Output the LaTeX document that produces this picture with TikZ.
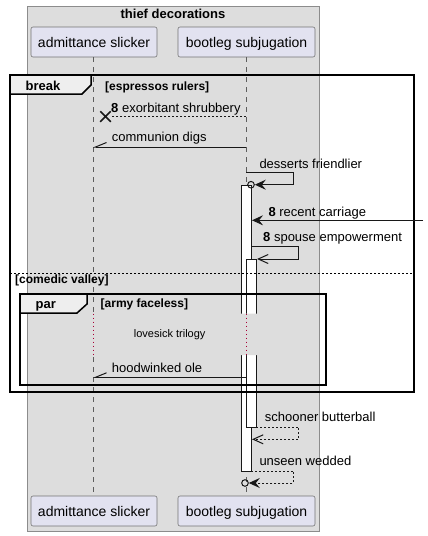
\documentclass[tikz,border=0pt]{standalone}
\usepackage{fontspec}
\setmainfont{Liberation Sans}
\usetikzlibrary{arrows.meta,shapes.misc}
\definecolor{boxgray}{HTML}{DDDDDD}
\definecolor{partfill}{HTML}{E2E2F0}
\definecolor{ink}{HTML}{181818}
\definecolor{tabfill}{HTML}{EEEEEE}
\definecolor{delayred}{HTML}{A80036}

\begin{document}
\begin{tikzpicture}[x=1pt,y=-1pt,
    part/.style={draw=ink!60, line width=0.6pt, fill=partfill, rounded corners=2pt,
                 minimum height=30pt, inner sep=0pt, text height=10pt, text depth=0pt,
                 font=\fontsize{14}{16}\selectfont},
    lifeline/.style={draw=ink!70, line width=0.6pt, dash pattern=on 5pt off 5pt},
    bar/.style={draw=ink, fill=white, line width=1pt},
    msg/.style={draw=ink, line width=1pt},
    reply/.style={msg, dash pattern=on 2pt off 2pt},
    lbl/.style={anchor=base west, inner sep=0pt, font=\fontsize{13}{15}\selectfont},
    head/.style={anchor=base west, inner sep=0pt, font=\bfseries\fontsize{13}{15}\selectfont},
    cond/.style={anchor=base west, inner sep=0pt, font=\bfseries\fontsize{12}{14}\selectfont},
    frame/.style={draw=black, line width=1.5pt},
    tab/.style={frame, fill=tabfill},
    ring/.style={circle, draw=ink, line width=1pt, minimum size=6.6pt, inner sep=0pt},
    lost/.style={cross out, draw=ink, line width=1.5pt, minimum size=9pt, inner sep=0pt},
    filled/.style={-{Stealth[length=11pt,width=10pt,inset=4pt]}},
    barb/.style={-{Straight Barb[length=10pt,width=9pt]}},
    halfbarb/.style={-{Straight Barb[right,length=11pt,width=9pt]}}]
  \useasboundingbox (0,0) rectangle (428,536);
  \fill[boxgray] (27,6) rectangle (319,531);
  \draw[black!45] (27,6) rectangle (319,531);
  \node[head, anchor=base] (boxtitle) at (173,18.3) {thief decorations};

  \node[part, minimum width=126pt] (slickTop) at (94,42) {admittance slicker};
  \node[part, minimum width=137pt] (bootTop) at (246.5,42) {bootleg subjugation};
  \node[part, minimum width=126pt] (slickBot) at (94,511) {admittance slicker};
  \node[part, minimum width=137pt] (bootBot) at (246.5,511) {bootleg subjugation};
  \draw[lifeline] (93,57) -- (93,496);
  \draw[lifeline] (246,57) -- (246,496);

  \draw[bar] (241,185) rectangle (251,471);
  \draw[bar] (246,259) rectangle (256,427);
  \fill[boxgray] (88,313.5) rectangle (98,355) (238,313.5) rectangle (260,355);
  \draw[delayred, line width=1pt, dash pattern=on 1pt off 3pt]
    (93,313.5) -- (93,355) (246.5,313.5) -- (246.5,355);
  \node[anchor=base, inner sep=0pt, font=\fontsize{11}{13}\selectfont] (delay) at (169.7,337.5) {lovesick trilogy};

  \draw[frame] (10,75) rectangle (414,392);
  \draw[tab] (10,75) -- (91,75) -- (91,85) -- (82,94) -- (10,94) -- cycle;
  \node[head] (breakhead) at (25.5,90) {break};
  \node[cond] (breakcond) at (105,90) {[espressos rulers]};
  \draw[black, line width=1pt, dash pattern=on 2pt off 2pt] (10,273) -- (414,273);
  \node[cond] (elsecond) at (15,283.3) {[comedic valley]};
  \draw[frame] (20,294) rectangle (326,385);
  \draw[tab] (20,294) -- (87,294) -- (87,304) -- (77,313) -- (20,313) -- cycle;
  \node[head] (parhead) at (35.5,308.5) {par};
  \node[cond] (parcond) at (100.5,307) {[army faceless]};

  \coordinate (shrubFrom) at (246,116.5);
  \node[lost] (shrubTo) at (105.5,116.5) {};
  \draw[reply] (shrubFrom) -- (shrubTo);
  \node[lbl] (shrubLbl) at (111,112) {\textbf{8} exorbitant shrubbery};

  \coordinate (digsFrom) at (246,147);
  \coordinate (digsTo) at (93,147);
  \draw[msg, halfbarb] (digsFrom) -- (digsTo);
  \node[lbl] (digsLbl) at (111.7,141.5) {communion digs};

  \coordinate (dessFrom) at (246,172.7);
  \node[ring] (dessTo) at (251,184.7) {};
  \draw[msg, filled] (dessFrom) -- ++(47.7,0) |- (dessTo);
  \node[lbl] (dessLbl) at (259.3,168) {desserts friendlier};

  \coordinate (carFrom) at (423,220.3);
  \coordinate (carTo) at (252,220.3);
  \draw[msg, filled] (carFrom) -- (carTo);
  \node[lbl] (carLbl) at (268.3,216) {\textbf{8} recent carriage};

  \coordinate (spouseFrom) at (251,246.7);
  \coordinate (spouseTo) at (257,259);
  \draw[msg, barb] (spouseFrom) -- ++(47.7,0) |- (spouseTo);
  \node[lbl] (spouseLbl) at (263,241) {\textbf{8} spouse empowerment};

  \coordinate (oleFrom) at (246,377.3);
  \coordinate (oleTo) at (93,377.3);
  \draw[msg, halfbarb] (oleFrom) -- (oleTo);
  \node[lbl] (oleLbl) at (111.7,372.7) {hoodwinked ole};

  \coordinate (schoonFrom) at (256,427);
  \coordinate (schoonTo) at (252,439.3);
  \draw[reply, barb] (schoonFrom) -- ++(42.7,0) |- (schoonTo);
  \node[lbl] (schoonLbl) at (264.7,421.7) {schooner butterball};

  \coordinate (weddFrom) at (251,471);
  \node[ring] (weddTo) at (245,483) {};
  \draw[reply, filled] (weddFrom) -- ++(42.7,0) |- (weddTo);
  \node[lbl] (weddLbl) at (259.3,465) {unseen wedded};
\end{tikzpicture}
\end{document}
